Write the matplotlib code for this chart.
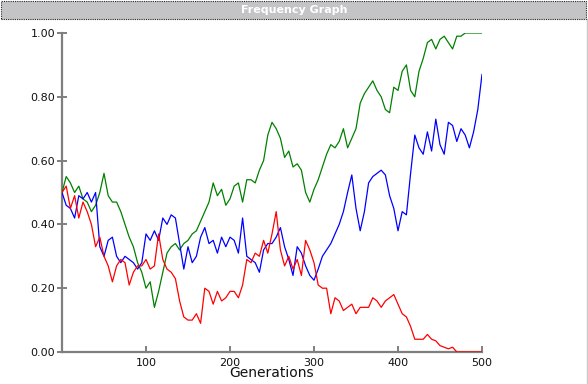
import numpy as np
import matplotlib
matplotlib.use('Agg')
import matplotlib.pyplot as plt
from matplotlib.patches import Rectangle
from matplotlib.lines import Line2D

# generations sampled every 5 steps
generations = np.arange(0, 501, 5)

green_freq = [
    0.50, 0.55, 0.53, 0.50, 0.52, 0.48, 0.47, 0.44, 0.46, 0.50,
    0.56, 0.49, 0.47, 0.47, 0.44, 0.40, 0.36, 0.33, 0.28, 0.25,
    0.20, 0.22, 0.14, 0.19, 0.25, 0.31, 0.33, 0.34, 0.32, 0.34,
    0.35, 0.37, 0.38, 0.41, 0.44, 0.47, 0.53, 0.49, 0.51, 0.46,
    0.48, 0.52, 0.53, 0.47, 0.54, 0.54, 0.53, 0.57, 0.60, 0.68,
    0.72, 0.70, 0.67, 0.61, 0.63, 0.58, 0.59, 0.57, 0.50, 0.47,
    0.51, 0.54, 0.58, 0.62, 0.65, 0.64, 0.66, 0.70, 0.64, 0.67,
    0.70, 0.78, 0.81, 0.83, 0.85, 0.82, 0.80, 0.76, 0.75, 0.83,
    0.82, 0.88, 0.90, 0.82, 0.80, 0.88, 0.92, 0.97, 0.98, 0.95,
    0.98, 0.99, 0.97, 0.95, 0.99, 0.99, 1.00, 1.00, 1.00, 1.00,
    1.00,
]

blue_freq = [
    0.50, 0.46, 0.45, 0.42, 0.49, 0.48, 0.50, 0.47, 0.50, 0.33,
    0.30, 0.35, 0.36, 0.30, 0.28, 0.30, 0.29, 0.28, 0.26, 0.28,
    0.37, 0.35, 0.38, 0.35, 0.42, 0.40, 0.43, 0.42, 0.34, 0.26,
    0.33, 0.28, 0.30, 0.36, 0.39, 0.34, 0.35, 0.31, 0.36, 0.33,
    0.36, 0.35, 0.31, 0.42, 0.30, 0.29, 0.28, 0.25, 0.32, 0.34,
    0.34, 0.36, 0.39, 0.33, 0.29, 0.24, 0.33, 0.31, 0.27, 0.24,
    0.225, 0.26, 0.30, 0.32, 0.34, 0.37, 0.40, 0.44, 0.50, 0.555,
    0.45, 0.38, 0.44, 0.53, 0.55, 0.56, 0.57, 0.555, 0.49, 0.45,
    0.38, 0.44, 0.43, 0.56, 0.68, 0.64, 0.62, 0.69, 0.63, 0.73,
    0.65, 0.62, 0.72, 0.71, 0.66, 0.70, 0.68, 0.64, 0.69, 0.76,
    0.87,
]

red_freq = [
    0.50, 0.52, 0.45, 0.49, 0.42, 0.47, 0.44, 0.40, 0.33, 0.36,
    0.30, 0.27, 0.22, 0.27, 0.29, 0.28, 0.21, 0.25, 0.27, 0.27,
    0.29, 0.26, 0.27, 0.37, 0.29, 0.26, 0.25, 0.23, 0.16, 0.11,
    0.10, 0.10, 0.12, 0.09, 0.20, 0.19, 0.15, 0.19, 0.16, 0.17,
    0.19, 0.19, 0.17, 0.21, 0.29, 0.28, 0.31, 0.30, 0.35, 0.31,
    0.37, 0.44, 0.32, 0.27, 0.30, 0.26, 0.29, 0.24, 0.35, 0.32,
    0.28, 0.21, 0.20, 0.20, 0.12, 0.17, 0.16, 0.13, 0.14, 0.15,
    0.12, 0.14, 0.14, 0.14, 0.17, 0.16, 0.14, 0.16, 0.17, 0.18,
    0.15, 0.12, 0.11, 0.08, 0.04, 0.04, 0.04, 0.055, 0.04, 0.035,
    0.02, 0.015, 0.01, 0.015, 0.00, 0.00, 0.00, 0.00, 0.00, 0.00,
    0.00,
]

x_ticks = [100, 200, 300, 400, 500]
y_ticks = [0.0, 0.2, 0.4, 0.6, 0.8, 1.0]

W, H = 588, 384
fig = plt.figure(figsize=(W / 100, H / 100), dpi=100)

# title bar
bar = Rectangle((1 / W, 1 - 19 / H), 585 / W, 18 / H, transform=fig.transFigure,
                facecolor='#c4c3c6', edgecolor='#222222', linestyle=(0, (1, 1)),
                linewidth=0.8, zorder=0)
fig.patches.append(bar)
fig.text(0.5, 1 - 10 / H, 'Frequency Graph', color='white', fontsize=8,
         fontweight='bold', ha='center', va='center')
# thin frame line at right edge
fig.lines.append(Line2D([586.5 / W, 586.5 / W], [0, 1 - 19 / H], transform=fig.transFigure,
                        color='#c8c8c8', linewidth=1))

ax = fig.add_axes([62 / W, 1 - 352 / H, 420 / W, 319 / H])
ax.plot(generations, green_freq, color='#008000', linewidth=0.9)
ax.plot(generations, blue_freq, color='#0000ff', linewidth=0.9)
ax.plot(generations, red_freq, color='#ff0000', linewidth=0.9)

ax.set_xlim(0, 500)
ax.set_ylim(0, 1)
ax.set_xticks(x_ticks)
ax.set_yticks(y_ticks)
ax.set_yticklabels(['%.2f' % v for v in y_ticks])
for side in ['top', 'right']:
    ax.spines[side].set_visible(False)
for side in ['left', 'bottom']:
    ax.spines[side].set_color('#7f7f7f')
    ax.spines[side].set_linewidth(1.6)
    ax.spines[side].set_zorder(0.5)
ax.tick_params(axis='y', direction='inout', length=7, width=1.4, color='#7f7f7f',
               labelsize=8, labelcolor='#111111', pad=1.5)
ax.tick_params(axis='x', direction='in', length=4, width=1.4, color='#7f7f7f',
               labelsize=8, labelcolor='#111111', pad=4)
ax.set_xlabel('Generations', fontsize=10, color='#111111', labelpad=-1)

fig.savefig('out.png', dpi=100)
